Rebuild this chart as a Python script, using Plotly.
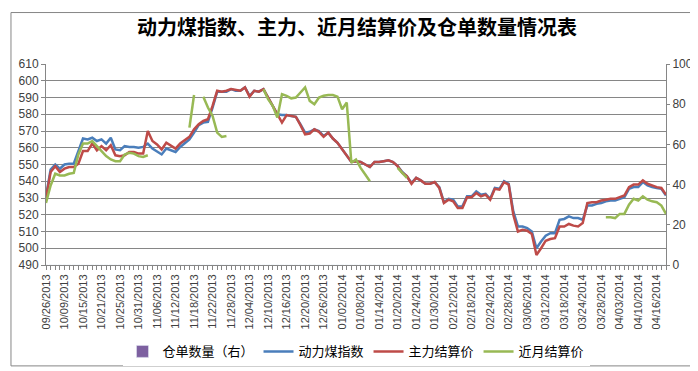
import pandas as pd
import plotly.graph_objects as go

# ---- trading days (categories) ----
holidays = pd.to_datetime([
    "2013-10-01", "2013-10-02", "2013-10-03", "2013-10-04", "2013-10-07",
    "2014-01-01", "2014-01-31", "2014-02-03", "2014-02-04", "2014-02-05",
    "2014-02-06", "2014-04-07",
])
days = pd.bdate_range("2013-09-26", "2014-04-18")
days = days[~days.isin(holidays)]
dates = [d.strftime("%m/%d/%Y") for d in days]

tick_labels = [
    "09/26/2013", "10/09/2013", "10/15/2013", "10/21/2013", "10/25/2013",
    "10/31/2013", "11/06/2013", "11/12/2013", "11/18/2013", "11/22/2013",
    "11/28/2013", "12/04/2013", "12/10/2013", "12/16/2013", "12/20/2013",
    "12/26/2013", "01/02/2014", "01/08/2014", "01/14/2014", "01/20/2014",
    "01/24/2014", "01/30/2014", "02/12/2014", "02/18/2014", "02/24/2014",
    "02/28/2014", "03/06/2014", "03/12/2014", "03/18/2014", "03/24/2014",
    "03/28/2014", "04/03/2014", "04/10/2014", "04/16/2014",
]

# ---- series ----
# 动力煤指数
coal_index = [
    531, 547, 550, 547.5, 550, 550.5, 550.5, 558, 565.5, 565,          # 0-9
    566, 564, 565, 562.5, 566, 559, 558.5, 561, 560.5, 560.5,          # 10-19
    560, 560.5, 562.5, 559.5, 558, 556, 559.5, 558.5, 557.5, 560.5,    # 20-29
    562.5, 565, 569, 573.5, 575, 575.5, 584, 593.5, 593.5, 593.5,      # 30-39
    595, 594, 594, 596, 591, 594, 593.5, 595, 590, 585,                # 40-49
    580, 579.5, 579.5, 579, 578.5, 574, 569, 569.5, 571, 570,          # 50-59
    567, 569, 565.5, 563, 559, 555, 551.5, 552, 551.5, 550,            # 60-69
    548.5, 551.5, 551.5, 552, 552.5, 551.5, 549, 545.5, 543, 539,      # 70-79
    542, 540.5, 538.5, 538.5, 539.5, 536.5, 527.5, 529.5, 529, 525,    # 80-89
    525, 531, 531, 534, 532, 532.5, 529.5, 536, 535.5, 540,            # 90-99
    538.5, 522, 513, 513, 512, 510, 500, 504, 507.5, 509,              # 100-109
    509, 517, 517.5, 519, 518, 518, 517, 525.5, 525.5, 526.5,          # 110-119
    527, 528, 528.5, 528.5, 529.5, 530.5, 535.5, 536.5, 536.5, 539.5,  # 120-129
    537.5, 536.5, 536, 535.5, 531.5,                                   # 130-134
]
# 主力结算价
main_settle = [
    530, 545.5, 549, 545.5, 547.5, 548.5, 548.5, 550.5, 558, 558,      # 0-9
    562.5, 558.5, 561, 558.5, 561.5, 555.5, 555, 555.5, 557.5, 557.5,  # 10-19
    556.5, 556.5, 570, 564, 562, 559, 563, 561, 559.5, 562.5,          # 20-29
    564.5, 566.5, 571, 574, 576, 577, 585, 594, 593.5, 594,            # 30-39
    595, 594.5, 594, 596, 590.5, 594, 593.5, 595, 590, 585,            # 40-49
    580, 575, 579.5, 579, 578.5, 573.5, 568, 568.5, 571, 569.5,        # 50-59
    566.5, 569, 565.5, 563, 559, 555, 551.5, 552, 551.5, 550,          # 60-69
    548.5, 551.5, 551.5, 552, 552.5, 551.5, 549, 545, 543, 538.5,      # 70-79
    542, 540.5, 538.5, 538.5, 539.5, 536, 527, 529, 528, 524,          # 80-89
    524, 530.5, 530.5, 533, 531, 532, 529, 535.5, 535, 539.5,          # 90-99
    538, 520, 510, 511, 510.5, 508.5, 496, 500, 504.5, 505.5,          # 100-109
    506, 513, 513, 514.5, 513.5, 513, 515, 527, 527.5, 527.5,          # 110-119
    528.5, 529, 529.5, 529.5, 530.5, 531.5, 536.5, 538, 538, 540.5,    # 120-129
    538.5, 537.5, 536.5, 536, 532,                                     # 130-134
]
N = None
# 近月结算价
near_settle = [
    527, 537.5, 544.5, 543.5, 543.5, 544.5, 545, 556, 562.5, 562.5,    # 0-9
    564, 561, 558, 555, 553, 552, 552, 556, 557, 556.5,                # 10-19
    555, 554.5, 555.5, N, N, N, N, N, N, N,                            # 20-29
    N, 572, 591.5, N, 590.5, 584, 579, 569, 566.5, 567,                # 30-39
    N, N, N, N, N, N, N, 595, 589, 585,                                # 40-49
    578, 592, 591, 589.5, 590, 593, 596, 588, 586, 590,                # 50-59
    591, 591.5, 591.5, 590.5, 583, 587, 551, 553, 548, 544,            # 60-69
    540, N, N, N, N, N, 548, 545, 542, N,                              # 70-79
    N, N, N, N, N, N, N, N, N, N,                                      # 80-89
    N, N, N, N, N, N, N, N, N, N,                                      # 90-99
    N, N, N, N, N, N, N, N, N, N,                                      # 100-109
    N, N, N, N, N, N, N, N, N, N,                                      # 110-119
    N, 518.5, 518.5, 518, 520.5, 520.5, 526, 529.5, 528.5, 531,        # 120-129
    529, 528, 527.5, 525.5, 520.5,                                     # 130-134
]
# 仓单数量（右）
warrants = [0] * len(dates)

x = list(range(len(dates)))
tick_pos = x[::4]

FONT = "Noto Sans CJK SC"
TICKFONT = dict(family="Liberation Sans", size=11, color="#404040")

fig = go.Figure()
fig.add_trace(go.Bar(x=x, y=warrants, name="仓单数量（右）", yaxis="y2",
                     marker_color="#7d60a0"))
fig.add_trace(go.Scatter(x=x, y=coal_index, name="动力煤指数", mode="lines",
                         line=dict(color="#4a7ebb", width=2.5)))
fig.add_trace(go.Scatter(x=x, y=main_settle, name="主力结算价", mode="lines",
                         line=dict(color="#be4b48", width=2.5)))
fig.add_trace(go.Scatter(x=x, y=near_settle, name="近月结算价", mode="lines",
                         line=dict(color="#98b954", width=2.5)))

fig.update_layout(
    width=698, height=371,
    margin=dict(l=38, r=40, t=56, b=108),
    paper_bgcolor="white", plot_bgcolor="white",
    font=dict(family=FONT, color="#000000"),
    title=dict(text="<b>动力煤指数、主力、近月结算价及仓单数量情况表</b>",
               x=0.5, xanchor="center", y=0.945, yanchor="middle",
               font=dict(family=FONT, size=20, color="#000000")),
    showlegend=True,
    legend=dict(orientation="h", x=0.5, xanchor="center", y=-0.43,
                yanchor="middle", font=dict(family=FONT, size=13),
                traceorder="normal", itemwidth=30),
    xaxis=dict(
        range=[0, len(dates) - 1], tickmode="array", tickvals=tick_pos,
        ticktext=tick_labels, tickangle=-90, tickfont=TICKFONT,
        showgrid=False, zeroline=False, showline=True, linecolor="#868686",
        ticks="outside", ticklen=4, tickcolor="#868686",
        minor=dict(ticks="outside", dtick=1, ticklen=4, tickcolor="#868686"),
    ),
    yaxis=dict(
        range=[490, 610], dtick=10, tickfont=dict(family="Liberation Sans", size=12, color="#404040"),
        showgrid=True, gridcolor="#868686", gridwidth=1, zeroline=False,
        showline=True, linecolor="#868686", ticks="outside", ticklen=4,
        tickcolor="#868686",
    ),
    yaxis2=dict(
        range=[0, 100], dtick=20, overlaying="y", side="right",
        tickfont=dict(family="Liberation Sans", size=12, color="#404040"),
        showgrid=False, zeroline=False, showline=True, linecolor="#868686",
        ticks="outside", ticklen=3, tickcolor="#868686",
    ),
    shapes=[dict(type="rect", xref="paper", yref="paper",
                 x0=-0.0565, x1=1.058, y0=-0.502, y1=1.256,
                 line=dict(color="#868686", width=1), fillcolor="rgba(0,0,0,0)")],
)

fig.write_html("out.html")
